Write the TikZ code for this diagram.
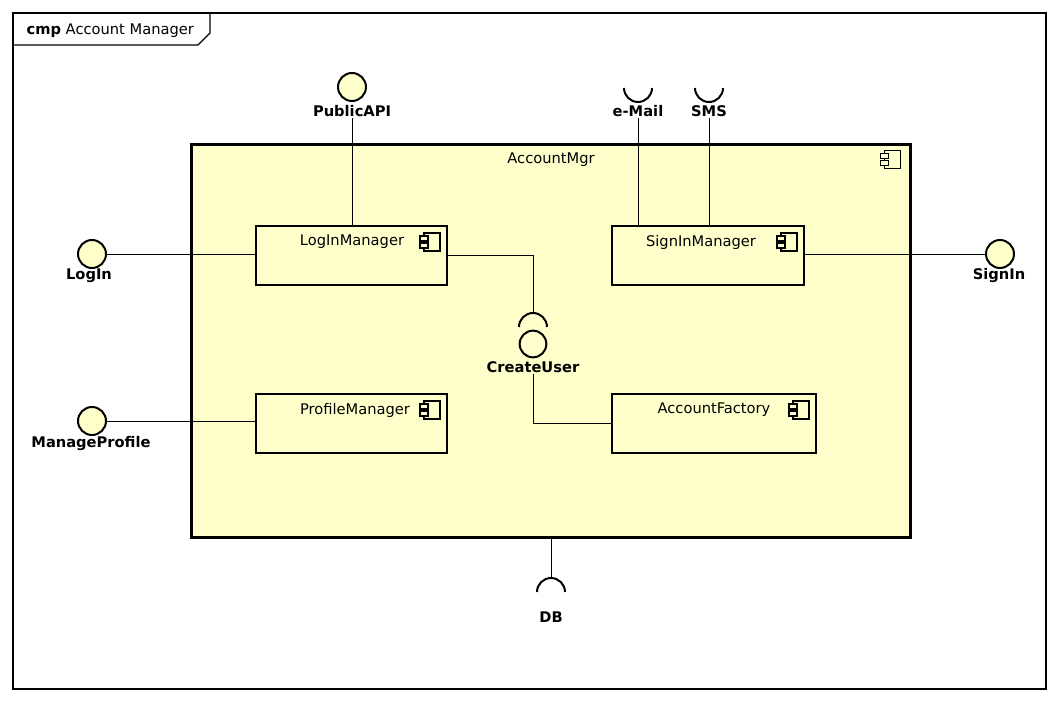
\documentclass[tikz,border=0pt]{standalone}
\usepackage{fontspec}
\setmainfont{DejaVu Sans}
\usetikzlibrary{calc}
\definecolor{compfill}{HTML}{FFFFCC}
\tikzset{
	comp/.style={draw, fill=compfill, rectangle, inner sep=0pt, line width=1.5pt},
	ball/.style={draw, fill=compfill, circle, inner sep=0pt, minimum size=21pt, line width=1.5pt},
	txt/.style={inner sep=1pt, font=\fontsize{11}{13}\selectfont},
	iflabel/.style={txt, font=\fontsize{11}{13}\selectfont\bfseries},
	wire/.style={line width=0.7pt},
	socket/.style={line width=1.5pt},
	compicon/.pic={
		\draw[fill=compfill, line width=0.9pt] (-16,0) rectangle (0,18);
		\draw[fill=compfill, line width=0.9pt] (-20,3) rectangle (-12,8);
		\draw[fill=compfill, line width=0.9pt] (-20,10) rectangle (-12,15);
	}
}
\begin{document}
\begin{tikzpicture}[x=0.75pt, y=-0.75pt]
		%%%%% START %%%%%
		\useasboundingbox (0,0) rectangle (1060,702);
		
		% frame and tab
		\draw[line width=0.8pt] (13,13) rectangle (1046,689);
		\draw[line width=0.8pt] (13,45) -- (198,45) -- (210,33) -- (210,13);
		\node[txt, anchor=west] (title) at (25,31) {\textbf{cmp} Account Manager};
		
		% components
		\node[comp, line width=2.25pt, minimum width=539.25pt, minimum height=294pt] (mgr) at (550.5,341) {};
		\node[txt] (mgrlbl) at (551,160) {AccountMgr};
		\pic at ($(mgr.north east)+(-11,7)$) {compicon};
		
		\node[comp, minimum width=143.25pt, minimum height=44.25pt] (login) at (351.5,255.5) {};
		\node[txt] (loginlbl) at (352,242) {LogInManager};
		\pic at ($(login.north east)+(-8,8)$) {compicon};
		
		\node[comp, minimum width=144pt, minimum height=44.25pt] (signin) at (708,255.5) {};
		\node[txt] (signinlbl) at (701,242) {SignInManager};
		\pic at ($(signin.north east)+(-8,8)$) {compicon};
		
		\node[comp, minimum width=143.25pt, minimum height=44.25pt] (profile) at (351.5,423.5) {};
		\node[txt] (profilelbl) at (355,410) {ProfileManager};
		\pic at ($(profile.north east)+(-8,8)$) {compicon};
		
		\node[comp, minimum width=153pt, minimum height=44.25pt] (factory) at (714,423.5) {};
		\node[txt] (factorylbl) at (714,410) {AccountFactory};
		\pic at ($(factory.north east)+(-8,8)$) {compicon};
		
		% provided interfaces
		\node[ball] (publicball) at (352,87) {};
		\node[iflabel] (publiclbl) at (352,111) {PublicAPI};
		\draw[wire] (publiclbl.south) -- (publiclbl.south |- login.north);
		
		\node[ball] (loginball) at (92,254) {};
		\node[iflabel] (loginiflbl) at (89,276) {LogIn};
		\draw[wire] (loginball.east) -- (loginball -| login.west);
		
		\node[ball] (profball) at (92,421) {};
		\node[iflabel] (profiflbl) at (91,444) {ManageProfile};
		\draw[wire] (profball.east) -- (profball -| profile.west);
		
		\node[ball] (signinball) at (1000,254) {};
		\node[iflabel] (signiniflbl) at (999,276) {SignIn};
		\draw[wire] (signinball.west) -- (signinball -| signin.east);
		
		% required interfaces
		\coordinate (mailsock) at (638,88);
		\draw[socket] ($(mailsock)+(-14,0)$) arc (180:0:14);
		\node[iflabel] (maillbl) at (638,111) {e-Mail};
		\draw[wire] (maillbl.south) -- (maillbl.south |- signin.north);
		
		\coordinate (smssock) at (709,88);
		\draw[socket] ($(smssock)+(-14,0)$) arc (180:0:14);
		\node[iflabel] (smslbl) at (709,111) {SMS};
		\draw[wire] (smslbl.south) -- (smslbl.south |- signin.north);
		
		\coordinate (dbsock) at (551,592);
		\coordinate (dbtop) at (551,578);
		\draw[socket] ($(dbsock)+(-14,0)$) arc (180:360:14);
		\node[iflabel] (dblbl) at (551,617) {DB};
		\draw[wire] (mgr.south -| dbtop) -- (dbtop);
		
		% internal assembly
		\coordinate (createsock) at (533,327);
		\coordinate (createtop) at (533,313);
		\draw[socket] ($(createsock)+(-14,0)$) arc (180:360:14);
		\node[ball, minimum size=20pt] (createball) at (533,344) {};
		\node[iflabel] (createlbl) at (533,367) {CreateUser};
		\draw[wire] (login.east) -| (createtop);
		\draw[wire] (createlbl.south) |- (factory.west);
		
		%%%%% END %%%%%
\end{tikzpicture}
\end{document}
